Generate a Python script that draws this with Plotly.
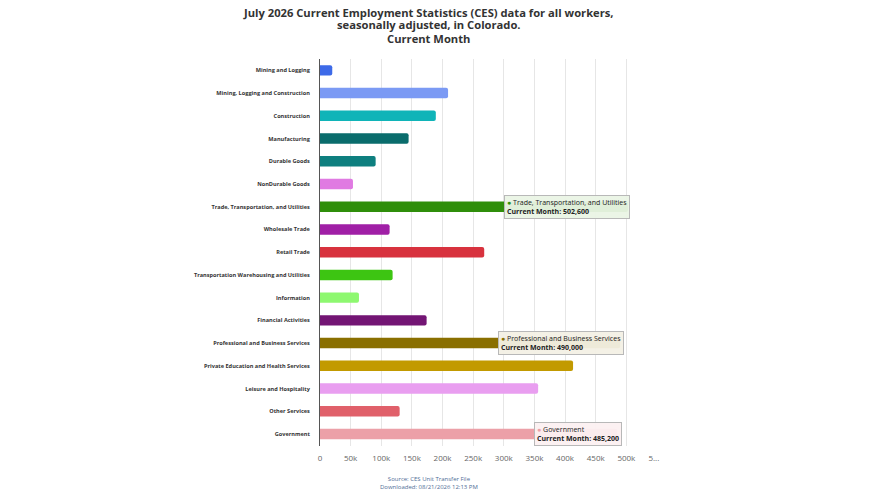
import plotly.graph_objects as go

# Colorado CES, July 2026, current month (seasonally adjusted)
categories = [
    "Mining and Logging",
    "Mining, Logging and Construction",
    "Construction",
    "Manufacturing",
    "Durable Goods",
    "NonDurable Goods",
    "Trade, Transportation, and Utilities",
    "Wholesale Trade",
    "Retail Trade",
    "Transportation Warehousing and Utilities",
    "Information",
    "Financial Activities",
    "Professional and Business Services",
    "Private Education and Health Services",
    "Leisure and Hospitality",
    "Other Services",
    "Government",
]
current_month = [
    20000, 209000, 189000, 144600, 90800, 53800, 502600, 113600, 268000,
    118500, 63600, 174000, 490000, 413000, 356000, 130000, 485200,
]
bar_colors = [
    "#3d6ae8", "#7b9af4", "#10b4b8", "#0a6c6c", "#0e7f7f", "#e07ae2",
    "#2f8e0a", "#a01fa6", "#d8323e", "#3dc512", "#8ef870", "#731574",
    "#8a6f00", "#c29a00", "#e99ef0", "#e0606a", "#eca0a8",
]
tick_vals = [0, 50000, 100000, 150000, 200000, 250000, 300000, 350000,
             400000, 450000, 500000, 550000]
tick_text = ["0", "50k", "100k", "150k", "200k", "250k", "300k", "350k",
             "400k", "450k", "500k", "5...\u00a0\u00a0\u00a0"]

title_lines = [
    "July 2026 Current Employment Statistics (CES) data for all workers,",
    "seasonally adjusted, in Colorado.",
    "Current Month",
]
source_text = "Source: CES Unit Transfer File<br>Downloaded: 08/21/2026 12:13 PM"

# tooltips that are shown pinned in the picture: (category, x where box starts, tint)
pinned = [
    ("Trade, Transportation, and Utilities", 301000, "rgba(234,244,229,0.95)"),
    ("Professional and Business Services", 290000, "rgba(243,240,229,0.95)"),
    ("Government", 350000, "rgba(252,240,241,0.95)"),
]

fig = go.Figure()
fig.add_trace(go.Bar(
    x=current_month,
    y=categories,
    orientation="h",
    marker=dict(color=bar_colors, line=dict(width=0)),
    hovertemplate="%{y}<br>Current Month: %{x:,}<extra></extra>",
))

annotations = []
for cat, x0, tint in pinned:
    i = categories.index(cat)
    annotations.append(dict(
        x=x0, y=cat, xref="x", yref="y",
        xanchor="left", yanchor="middle", showarrow=False, align="left",
        text=(f"<span style='color:{bar_colors[i]}'>●</span> {cat}"
              f"<br><b>Current Month: {current_month[i]:,}</b>"),
        font=dict(family="Open Sans", size=7, color="#222"),
        bgcolor=tint, bordercolor="#b8b8b8", borderwidth=1, borderpad=2,
    ))

# title as separate lines so the line spacing stays tight
for line, ty in zip(title_lines, [1.1214, 1.0879, 1.0517]):
    annotations.append(dict(
        x=0.3234, y=ty, xref="paper", yref="paper",
        xanchor="center", yanchor="middle", showarrow=False,
        text=line,
        font=dict(family="Open Sans", size=11.2, color="#333", weight="bold"),
    ))

annotations.append(dict(
    x=0.3234, y=-0.07, xref="paper", yref="paper",
    xanchor="center", yanchor="top", showarrow=False,
    text=source_text,
    font=dict(family="Open Sans", size=6, color="#4f6d96"),
))

# page body adds an 8px margin, so the figure is 16px smaller than the window
fig.update_layout(
    width=859,
    height=484,
    paper_bgcolor="white",
    plot_bgcolor="white",
    margin=dict(l=312, r=210, t=51, b=46),
    bargap=0.54,
    barcornerradius=2,
    showlegend=False,
    annotations=annotations,
)
fig.update_xaxes(
    range=[0, 550000],
    tickvals=tick_vals,
    ticktext=tick_text,
    showgrid=True,
    gridcolor="#e6e6e6",
    gridwidth=1,
    zeroline=False,
    showline=False,
    ticks="",
    ticklabelstandoff=6,
    tickfont=dict(family="Open Sans", size=8, color="#666"),
)
fig.update_yaxes(
    autorange="reversed",
    showgrid=False,
    showline=True,
    linecolor="#555",
    linewidth=1,
    ticks="",
    ticklabelstandoff=8,
    tickfont=dict(family="Open Sans", size=5.6, color="#333", weight="bold"),
)

fig.write_html("out.html")
